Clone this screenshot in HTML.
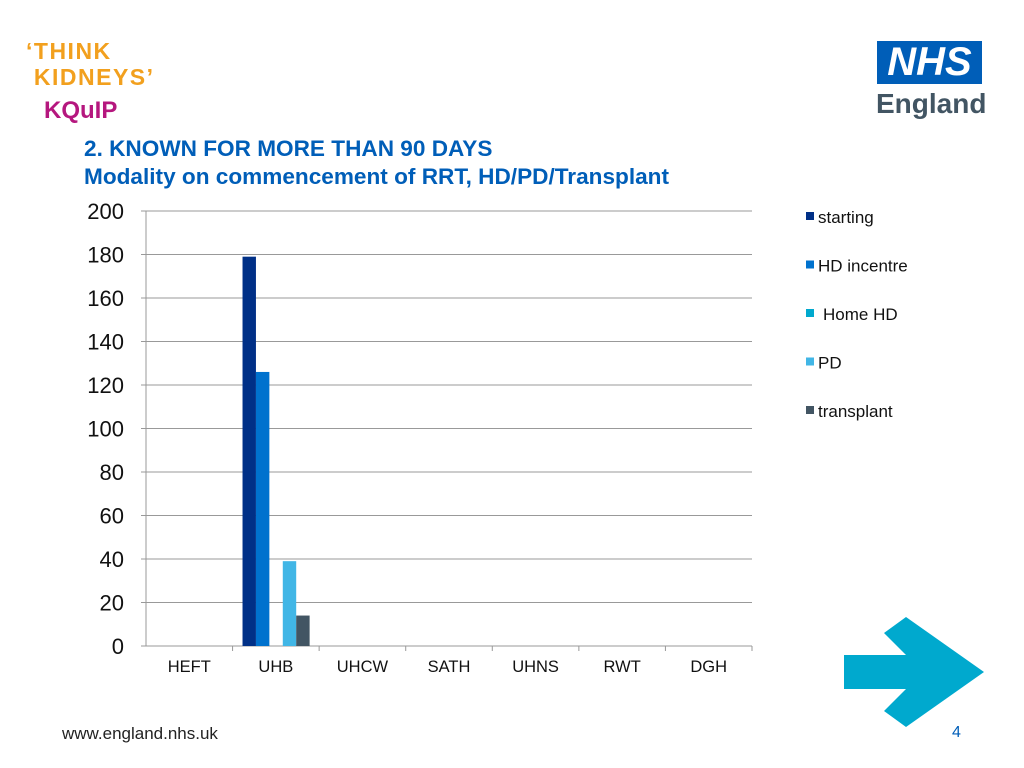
<!DOCTYPE html>
<html><head><meta charset="utf-8"><style>
body{margin:0;width:1024px;height:768px;background:#fff;font-family:"Liberation Sans",sans-serif;position:relative;overflow:hidden}
.abs{position:absolute}
</style></head><body>
<div class="abs" style="left:26px;top:38px;font-weight:900;color:#f2a01e;font-size:23px;line-height:26px;letter-spacing:1.5px">‘THINK<br>&nbsp;KIDNEYS’</div>
<div class="abs" style="left:44px;top:97px;font-weight:900;color:#b5177e;font-size:24px">KQuIP</div>
<div class="abs" style="left:877px;top:41px;width:105px;height:43px;background:#005eb8;color:#fff;font-weight:900;font-style:italic;font-size:40px;line-height:43px;text-align:center">NHS</div>
<div class="abs" style="left:876px;top:88px;color:#425563;font-weight:bold;font-size:28px">England</div>
<div class="abs" style="left:84px;top:135px;color:#005eb8;font-weight:bold;font-size:22.6px;line-height:28px;white-space:nowrap;letter-spacing:0px">2. KNOWN FOR MORE THAN 90 DAYS<br>Modality on commencement of RRT, HD/PD/Transplant</div>
<svg class="abs" style="left:0;top:0" width="1024" height="768" id="chart">
<g id="g"></g>
</svg>
<div class="abs" style="left:62px;top:724px;font-size:17px;color:#222">www.england.nhs.uk</div>
<div class="abs" style="left:952px;top:724px;font-size:16px;color:#005eb8">4</div>
<svg class="abs" style="left:844px;top:617px" width="140" height="110">
<polygon points="0,38 62,38 40,16 62,0 140,55 62,110 40,94 62,72 0,72" fill="#00a9ce"/>
</svg>
<script>
const categories=["HEFT","UHB","UHCW","SATH","UHNS","RWT","DGH"];
const seriesNames=["starting","HD incentre","Home HD","PD","transplant"];
const starting=[0,179,0,0,0,0,0];
const hdIncentre=[0,126,0,0,0,0,0];
const homeHd=[0,0,0,0,0,0,0];
const pd=[0,39,0,0,0,0,0];
const transplant=[0,14,0,0,0,0,0];
const yTicks=[0,20,40,60,80,100,120,140,160,180,200];
const series=[starting,hdIncentre,homeHd,pd,transplant];
const colors=["#003087","#0072ce","#00a9ce","#41b6e6","#425563"];
const NS="http://www.w3.org/2000/svg";const g=document.getElementById('g');
const x0=146,x1=752,yb=646,yt=211;
const y=v=>yb-(v/200)*(yb-yt);
const cw=(x1-x0)/categories.length;
function el(t,a){const e=document.createElementNS(NS,t);for(const k in a)e.setAttribute(k,a[k]);g.appendChild(e);return e;}
yTicks.forEach(t=>{
 const l=el('line',{x1:x0-5,x2:x1,y1:y(t),y2:y(t),stroke:'#999','stroke-width':1});
 
 
 const tx=el('text',{x:124,y:y(t)+8,'font-size':22,'text-anchor':'end',fill:'#111','font-family':'Liberation Sans'});
 tx.textContent=t;
 
 
});
el('line',{x1:x0,x2:x0,y1:yt,y2:yb,stroke:'#999'});
categories.forEach((c,i)=>{
 el('line',{x1:x0+cw*(i+1),x2:x0+cw*(i+1),y1:yb,y2:yb+5,stroke:'#999'});
 const tx=el('text',{x:x0+cw*(i+0.5),y:672,'font-size':16.5,'text-anchor':'middle',fill:'#111','font-family':'Liberation Sans'});
 tx.textContent=c;
 
 
 const bw=cw*0.155,start=x0+cw*i+cw*0.115;
 series.forEach((s,j)=>{
  if(!s[i])return;
  const r=el('rect',{x:start+j*bw,y:y(s[i]),width:bw,height:yb-y(s[i]),fill:colors[j]});
  
  
 });
});
seriesNames.forEach((n,j)=>{
 const yy=217+j*48.5;
 const r=el('rect',{x:806,y:yy-5,width:8,height:8,fill:colors[j]});
 
 
 const t=el('text',{x:j==2?823:818,y:yy+6,'font-size':17,fill:'#111','font-family':'Liberation Sans'});
 t.textContent=n;
 
 
});
</script>
</body></html>
